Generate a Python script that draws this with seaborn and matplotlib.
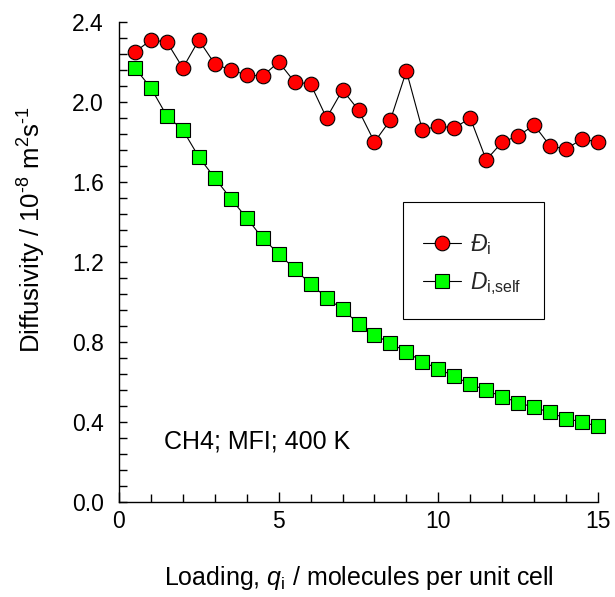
import numpy as np
import pandas as pd
import matplotlib
matplotlib.use("Agg")
import matplotlib.pyplot as plt
from matplotlib.ticker import MultipleLocator, FormatStrFormatter
from matplotlib.patches import Rectangle
import seaborn as sns

# Loading (molecules per unit cell)
loading = [0.5, 1.0, 1.5, 2.0, 2.5, 3.0, 3.5, 4.0, 4.5, 5.0,
           5.5, 6.0, 6.5, 7.0, 7.5, 8.0, 8.5, 9.0, 9.5, 10.0,
           10.5, 11.0, 11.5, 12.0, 12.5, 13.0, 13.5, 14.0, 14.5, 15.0]

# Maxwell-Stefan diffusivity, 10^-8 m2/s
d_ms = [2.25, 2.31, 2.30, 2.17, 2.31, 2.19, 2.16, 2.135, 2.13, 2.20,
        2.10, 2.09, 1.92, 2.06, 1.96, 1.80, 1.91, 2.155, 1.86, 1.88,
        1.87, 1.92, 1.71, 1.80, 1.83, 1.885, 1.78, 1.765, 1.815, 1.80]

# Self-diffusivity, 10^-8 m2/s
d_self = [2.17, 2.07, 1.93, 1.86, 1.725, 1.62, 1.517, 1.42, 1.318, 1.242,
          1.165, 1.09, 1.022, 0.963, 0.892, 0.837, 0.793, 0.752, 0.70, 0.667,
          0.628, 0.59, 0.558, 0.527, 0.497, 0.473, 0.448, 0.417, 0.40, 0.378]

sns.set_theme(style="white")
plt.rcParams["font.family"] = ["Liberation Sans", "DejaVu Sans"]
plt.rcParams["mathtext.fontset"] = "custom"
plt.rcParams["mathtext.rm"] = "Liberation Sans"
plt.rcParams["mathtext.it"] = "Liberation Sans:italic"
plt.rcParams["mathtext.default"] = "regular"

df = pd.DataFrame({"q": loading, "ms": d_ms, "self": d_self})

fig = plt.figure(figsize=(6.15, 5.97), dpi=100)
ax = fig.add_axes([119 / 615, 1 - 502 / 597, (598 - 119) / 615, (502 - 22) / 597])

sns.lineplot(data=df, x="q", y="ms", ax=ax, color="black", linewidth=0.8,
             marker="o", markersize=10.5, markerfacecolor="#ff0000",
             markeredgecolor="black", markeredgewidth=0.8, clip_on=False,
             label=r"$\mathit{Đ}_{\rm i}$")
sns.lineplot(data=df, x="q", y="self", ax=ax, color="black", linewidth=0.8,
             marker="s", markersize=10.3, markerfacecolor="#00ff00",
             markeredgecolor="black", markeredgewidth=0.8, clip_on=False,
             label=r"$\mathit{D}_{\rm i{,}self}$")

ax.set_xlim(0, 15)
ax.set_ylim(0, 2.4)
ax.xaxis.set_major_locator(MultipleLocator(5))
ax.xaxis.set_minor_locator(MultipleLocator(1))
ax.yaxis.set_major_locator(MultipleLocator(0.4))
ax.yaxis.set_minor_locator(MultipleLocator(0.08))
ax.yaxis.set_major_formatter(FormatStrFormatter("%.1f"))

for side in ["top", "right"]:
    ax.spines[side].set_visible(False)
for side in ["left", "bottom"]:
    ax.spines[side].set_color("black")
    ax.spines[side].set_linewidth(1.0)

ax.tick_params(axis="both", which="both", direction="in", color="black",
               width=1.0, labelsize=16.5, labelcolor="black")
ax.tick_params(axis="x", which="major", length=7.5, pad=6)
ax.tick_params(axis="x", which="minor", length=5.5)
ax.tick_params(axis="y", which="both", length=5.5, pad=11)
ax.tick_params(left=True, bottom=True, which="both")

ax.set_xlabel(r"Loading, $\mathit{q}_{\rm i}$ / molecules per unit cell",
              fontsize=18, color="black", labelpad=22)
ax.set_ylabel("Diffusivity / 10$^{\u2010 8}$ m$^{2}$s$^{\u20101}$",
              fontsize=18.5, color="black")
ax.yaxis.set_label_coords(-(119 - 48) / 479, (502 - 229) / 480)

ax.text(1.4, 0.305, "CH4; MFI; 400 K", fontsize=18, color="black",
        va="center", ha="left")

# Legend box
ax.add_patch(Rectangle(((403 - 119) / 479, (502 - 319) / 480),
                       (544 - 403) / 479, (319 - 202) / 480,
                       transform=ax.transAxes, fill=True, facecolor="white",
                       edgecolor="black", linewidth=0.8, zorder=5))
leg = ax.legend(loc="center left",
                bbox_to_anchor=((423 - 119) / 479, (502 - 264.5) / 480),
                frameon=False, fontsize=16.5, handlelength=1.65,
                borderpad=0, labelspacing=0.55, handletextpad=0.42,
                borderaxespad=0)
leg.set_zorder(6)

fig.savefig("out.png", dpi=100)
